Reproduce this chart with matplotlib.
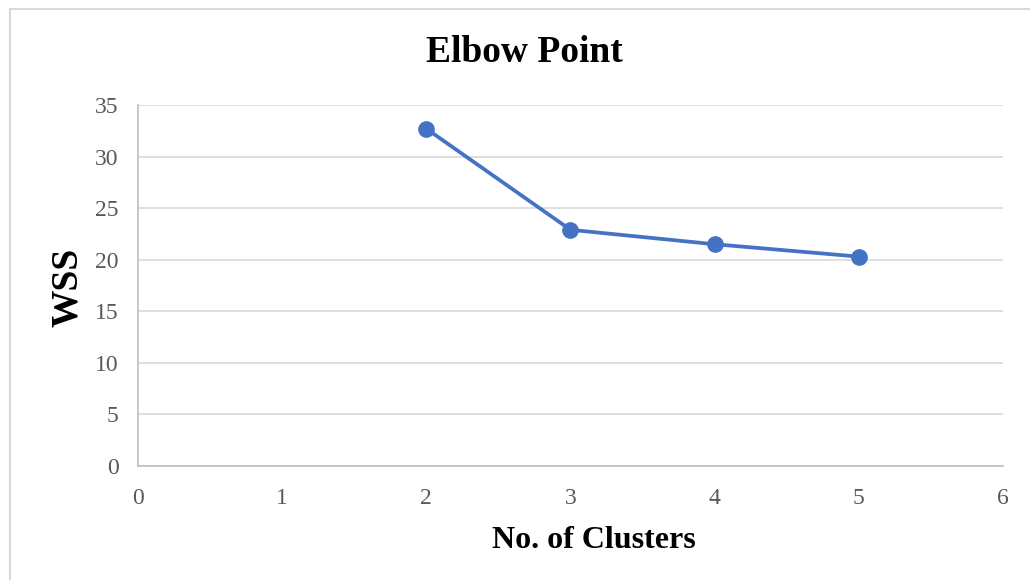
import matplotlib.pyplot as plt
from matplotlib.lines import Line2D

plt.rcParams['font.family'] = ['Liberation Serif', 'DejaVu Serif']

clusters = [2, 3, 4, 5]
wss = [32.7, 22.9, 21.5, 20.3]
x_ticks = [0, 1, 2, 3, 4, 5, 6]
y_ticks = [0, 5, 10, 15, 20, 25, 30, 35]

fig = plt.figure(figsize=(10.3, 5.8), dpi=100)
ax = fig.add_axes([138/1030, 1 - 466/580, (1003 - 138)/1030, (466 - 105)/580])

ax.plot(clusters, wss, color='#4472C4', linewidth=2.7, marker='o', markersize=11, zorder=3)

ax.set_xlim(0, 6)
ax.set_ylim(0, 35)
ax.set_xticks(x_ticks)
ax.set_yticks(y_ticks)
ax.grid(axis='y', color='#D9D9D9', linewidth=1.2)
ax.set_axisbelow(True)
for s in ['top', 'right']:
    ax.spines[s].set_visible(False)
for s in ['left', 'bottom']:
    ax.spines[s].set_color('#BFBFBF')
    ax.spines[s].set_linewidth(1.2)
ax.tick_params(length=0, labelsize=17, labelcolor='#595959')
ax.tick_params(axis='x', pad=16)
ax.tick_params(axis='y', pad=14)

fig.text(524/1030, 1 - 52/580, 'Elbow Point', ha='center', va='center', fontsize=27, fontweight='bold')
fig.text(594/1030, 1 - 540/580, 'No. of Clusters', ha='center', va='center', fontsize=23, fontweight='bold')
fig.text(68/1030, 1 - 287/580, 'WSS', ha='center', va='center', rotation=90, fontsize=27, fontweight='bold')

# chart border
fig.add_artist(Line2D([10/1030, 1], [1 - 9/580, 1 - 9/580], color='#D9D9D9', linewidth=1.5))
fig.add_artist(Line2D([10/1030, 10/1030], [0, 1 - 9/580], color='#D9D9D9', linewidth=1.5))

plt.savefig('out.png', dpi=100)
